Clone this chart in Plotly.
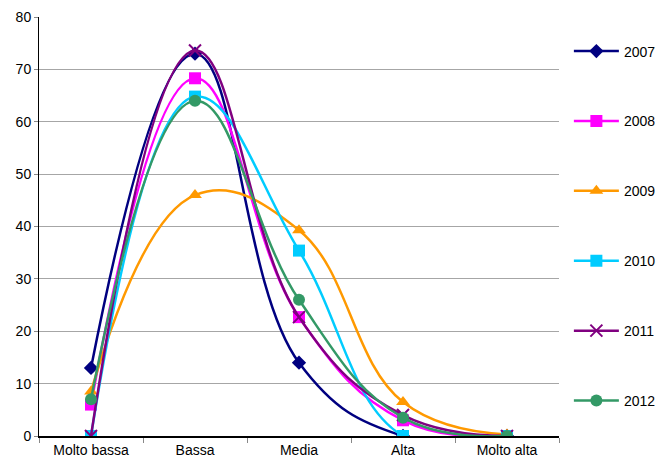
import plotly.graph_objects as go

categories = ["Molto bassa", "Bassa", "Media", "Alta", "Molto alta"]
years = ["2007", "2008", "2009", "2010", "2011", "2012"]
v2007 = [13, 73, 14, 0, 0]
v2008 = [6, 68.3, 22.7, 3, 0]
v2009 = [8.5, 46, 39.3, 6.5, 0.3]
v2010 = [0, 64.8, 35.4, 0, 0]
v2011 = [0, 73.6, 22.7, 4, 0]
v2012 = [7, 64, 26, 3.5, 0]
series = [v2007, v2008, v2009, v2010, v2011, v2012]

colors = ["#000080", "#FF00FF", "#FF9900", "#00CCFF", "#800080", "#339966"]
symbols = ["diamond", "square", "triangle-up", "square", "x-thin", "circle"]
sizes = [11, 12, 12, 12, 12, 12]

fig = go.Figure()
for i, (name, vals) in enumerate(zip(years, series)):
    marker = dict(color=colors[i], symbol=symbols[i], size=sizes[i])
    if symbols[i] == "x-thin":
        marker["line"] = dict(color=colors[i], width=2)
    fig.add_trace(go.Scatter(
        x=categories, y=vals, name=name, mode="lines+markers",
        line=dict(color=colors[i], width=2.5, shape="spline", smoothing=1.2),
        marker=marker, legendgroup=name,
    ))

fig.update_layout(
    width=669, height=468,
    margin=dict(l=31, r=118, t=9, b=40),
    plot_bgcolor="white", paper_bgcolor="white",
    font=dict(family="Liberation Sans, Arial, sans-serif", size=14, color="black"),
    showlegend=True,
    legend=dict(x=1.019, xanchor="left", y=0.956, yanchor="top",
                tracegroupgap=48.7, itemwidth=45, font=dict(size=14),
                bgcolor="rgba(0,0,0,0)"),
    xaxis=dict(showline=True, linecolor="black", linewidth=1.5,
               ticks="outside", tickson="boundaries", ticklen=5, tickcolor="#888",
               showgrid=False, range=[-0.5, 4.5], automargin=False),
    yaxis=dict(range=[0, 80], dtick=10, showline=True, linecolor="black", linewidth=1,
               ticks="outside", ticklen=4, tickcolor="#888",
               showgrid=True, gridcolor="#A6A6A6", gridwidth=1, zeroline=False,
               automargin=False),
)

fig.write_html("out.html")
